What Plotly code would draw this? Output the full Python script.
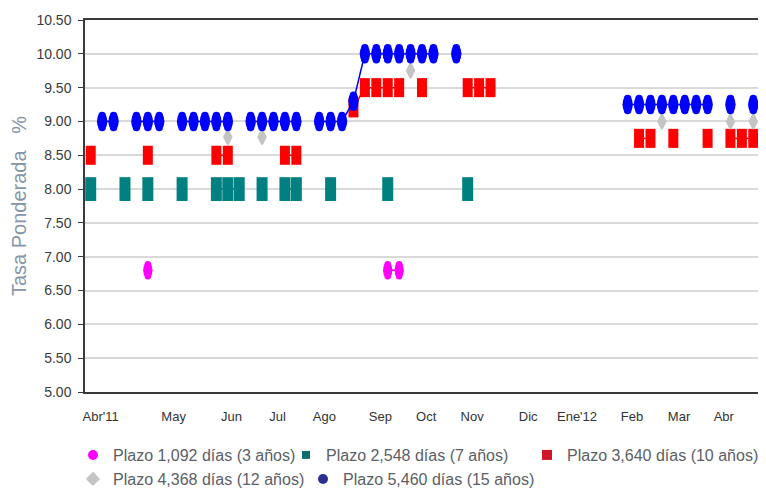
import plotly.graph_objects as go

# ---------------- data ----------------
n_weeks = 59  # weekly auction slots, Abr'11 .. Abr'12
month_labels = ["Abr'11", "May", "Jun", "Jul", "Ago", "Sep", "Oct", "Nov", "Dic", "Ene'12", "Feb", "Mar", "Abr"]
month_pos = [0.87, 7.26, 12.33, 16.35, 20.45, 25.35, 29.37, 33.39, 38.29, 42.57, 47.38, 51.5, 55.42]

p3_x = [5, 26, 27]
p3_y = [6.80, 6.80, 6.80]

p7_x = [0, 3, 5, 8, 11, 12, 13, 15, 17, 18, 21, 26, 33]
p7_y = [8.00, 8.00, 8.00, 8.00, 8.00, 8.00, 8.00, 8.00, 8.00, 8.00, 8.00, 8.00, 8.00]

p10_x = [0, 5, 11, 12, 17, 18, 23, 24, 25, 26, 27, 29, 33, 34, 35, 48, 49, 51, 54, 56, 57, 58]
p10_y = [8.50, 8.50, 8.50, 8.50, 8.50, 8.50, 9.20, 9.50, 9.50, 9.50, 9.50, 9.50, 9.50, 9.50, 9.50,
         8.75, 8.75, 8.75, 8.75, 8.75, 8.75, 8.75]

p12_x = [12, 15, 28, 50, 56, 58]
p12_y = [8.77, 8.77, 9.75, 9.00, 9.00, 9.00]

p15_x = [1, 2, 4, 5, 6, 8, 9, 10, 11, 12, 14, 15, 16, 17, 18, 20, 21, 22, 23,
         24, 25, 26, 27, 28, 29, 30, 32, 47, 48, 49, 50, 51, 52, 53, 54, 56, 58]
p15_y = [9.00, 9.00, 9.00, 9.00, 9.00, 9.00, 9.00, 9.00, 9.00, 9.00, 9.00, 9.00, 9.00, 9.00, 9.00,
         9.00, 9.00, 9.00, 9.30, 10.00, 10.00, 10.00, 10.00, 10.00, 10.00, 10.00, 10.00,
         9.25, 9.25, 9.25, 9.25, 9.25, 9.25, 9.25, 9.25, 9.25, 9.25]

legend_names = ["Plazo 1,092 días (3 años)", "Plazo 2,548 días (7 años)", "Plazo 3,640 días (10 años)",
                "Plazo 4,368 días (12 años)", "Plazo 5,460 días (15 años)"]

y_min, y_max = 5.0, 10.5
y_ticks = [5.0 + 0.5 * k for k in range(12)]


def full_series(xs, ys):
    """Weekly series with gaps (None) where there was no auction."""
    vals = [None] * n_weeks
    for xi, yi in zip(xs, ys):
        vals[xi] = yi
    return list(range(n_weeks)), vals


MAGENTA = "#FF00FF"
TEAL = "#008080"
RED = "#FF0000"
GRAY = "#C4C4C4"
BLUE = "#0000FF"

SANS = "Liberation Sans, Arial, sans-serif"

# page has an 8px body margin -> figure sized to fit the 766x490 window
FIG_W, FIG_H = 758, 482
M_L, M_R, M_T, M_B = 77, 7, 12, 98
plot_h = FIG_H - M_T - M_B
px_per_unit = plot_h / (y_max - y_min)

# hidden overlay y-axes shifted by a few pixels: stacked circles form the
# tall elliptical markers of the original chart
ell_offsets_px = [3, -3, 6, -6]

fig = go.Figure()

# 3 años (magenta ellipses)
wx, wy = full_series(p3_x, p3_y)
fig.add_trace(go.Scatter(x=wx, y=wy, mode="lines+markers", connectgaps=False,
                         line=dict(color=MAGENTA, width=1.5),
                         marker=dict(symbol="circle", size=9.5, color=MAGENTA),
                         showlegend=False, name=legend_names[0]))

# 7 años (teal rectangles)
wx, wy = full_series(p7_x, p7_y)
fig.add_trace(go.Scatter(x=wx, y=wy, mode="lines+markers", connectgaps=False,
                         line=dict(color=TEAL, width=1.5),
                         marker=dict(symbol="line-ns", size=17, color=TEAL,
                                     line=dict(width=11, color=TEAL)),
                         showlegend=False, name=legend_names[1]))

# 10 años (red rectangles)
wx, wy = full_series(p10_x, p10_y)
fig.add_trace(go.Scatter(x=wx, y=wy, mode="lines+markers", connectgaps=False,
                         line=dict(color=RED, width=1.5),
                         marker=dict(symbol="line-ns", size=13.6, color=RED,
                                     line=dict(width=10, color=RED)),
                         showlegend=False, name=legend_names[2]))

# 12 años (gray diamonds)
wx, wy = full_series(p12_x, p12_y)
fig.add_trace(go.Scatter(x=wx, y=wy, mode="lines+markers", connectgaps=False,
                         line=dict(color=GRAY, width=1.5),
                         marker=dict(symbol="diamond-tall", size=10.5, color=GRAY,
                                     line=dict(width=2, color=GRAY)),
                         showlegend=False, name=legend_names[3]))

# 15 años (blue ellipses)
wx, wy = full_series(p15_x, p15_y)
fig.add_trace(go.Scatter(x=wx, y=wy, mode="lines+markers", connectgaps=False,
                         line=dict(color=BLUE, width=1.5),
                         marker=dict(symbol="circle", size=10.5, color=BLUE),
                         showlegend=False, name=legend_names[4]))

# stacked circles on the shifted overlay axes
extra_axes = {}
for k, off in enumerate(ell_offsets_px):
    ax_name = "y%d" % (k + 2)
    d = off / px_per_unit
    extra_axes["yaxis%d" % (k + 2)] = dict(overlaying="y", range=[y_min - d, y_max - d], visible=False)
    big = abs(off) < 4.5
    fig.add_trace(go.Scatter(x=p3_x, y=p3_y, mode="markers", yaxis=ax_name,
                             marker=dict(symbol="circle", size=8.5 if big else 6.5, color=MAGENTA),
                             showlegend=False, hoverinfo="skip"))
    fig.add_trace(go.Scatter(x=p15_x, y=p15_y, mode="markers", yaxis=ax_name,
                             marker=dict(symbol="circle", size=9.5 if big else 7.5, color=BLUE),
                             showlegend=False, hoverinfo="skip"))

# legend entries
legend_specs = [
    (legend_names[0], "circle", 10, "#FF00FF", "legend", 168),
    (legend_names[1], "square", 8, "#0E6E6E", "legend", 196),
    (legend_names[2], "square", 10, "#D0142C", "legend", None),
    (legend_names[3], "diamond", 11, "#C4C4C4", "legend2", 185),
    (legend_names[4], "circle", 10, "#2B2F8F", "legend2", None),
]
for name, sym, sz, col, lg, lw in legend_specs:
    kw = dict(legendwidth=lw) if lw else {}
    fig.add_trace(go.Scatter(x=[None], y=[None], mode="markers", name=name,
                             marker=dict(symbol=sym, size=sz, color=col),
                             legend=lg, showlegend=True, **kw))

legend_common = dict(orientation="h", xanchor="left", yanchor="middle",
                     font=dict(family=SANS, size=16, color="#5B6067"),
                     bgcolor="rgba(0,0,0,0)", itemsizing="trace", itemwidth=30)

fig.update_layout(
    width=FIG_W, height=FIG_H,
    margin=dict(l=M_L, r=M_R, t=M_T, b=M_B, autoexpand=False),
    paper_bgcolor="white", plot_bgcolor="white",
    showlegend=True,
    legend=dict(x=-0.0178, y=-0.1694, **legend_common),
    legend2=dict(x=-0.0178, y=-0.2339, **legend_common),
    xaxis=dict(range=[-0.5, n_weeks - 0.5], tickmode="array", tickvals=month_pos, ticktext=month_labels,
               showgrid=False, zeroline=False, showline=True, mirror=True,
               linecolor="#3A3A3A", linewidth=1.5, ticks="", ticklabelstandoff=12,
               tickfont=dict(family=SANS, size=13, color="#333333"), automargin=False),
    yaxis=dict(range=[y_min, y_max], tickmode="array", tickvals=y_ticks, tickformat=".2f",
               showgrid=True, gridcolor="#D9D9D9", gridwidth=1.5, zeroline=False,
               showline=True, mirror=True, linecolor="#3A3A3A", linewidth=1.5,
               ticks="outside", ticklen=5, tickcolor="#3A3A3A", ticklabelstandoff=4,
               tickfont=dict(family=SANS, size=14, color="#3A3A3A"), automargin=False,
               title=dict(text="Tasa Ponderada\u00a0\u00a0\u00a0%", standoff=10,
                          font=dict(family=SANS, size=20, color="#8595A8"))),
    **extra_axes,
)

fig.write_html("out.html")
